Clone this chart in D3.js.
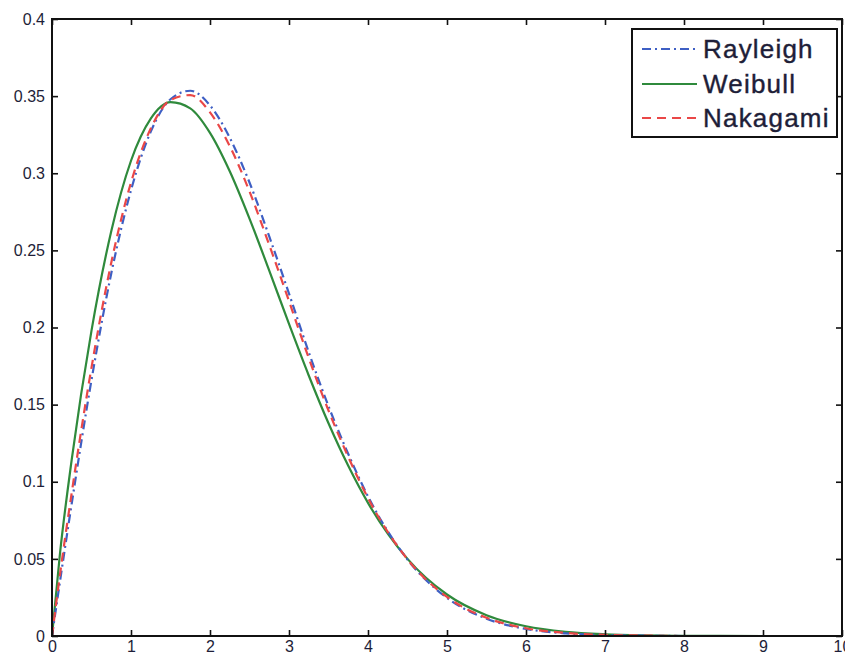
<!DOCTYPE html>
<html>
<head>
<meta charset="utf-8">
<script src="https://cdn.jsdelivr.net/npm/d3@7"></script>
<style>
  body { margin: 0; background: #fff; }
  text { font-family: "Liberation Sans", Arial, sans-serif; }
</style>
</head>
<body>
<script>
var w = 845;
var h = 659;
var margin = {top: 19, right: 3, bottom: 23, left: 52};

// values
var xs = [0, 0.1, 0.25, 0.5, 0.75, 1, 1.25, 1.5, 1.75, 2, 2.25, 2.5, 2.75, 3, 3.25, 3.5, 3.75, 4, 4.5, 5, 5.5, 6, 6.5, 7, 7.5, 8, 9, 10];
var rayleigh = [0, 0.035, 0.086, 0.166, 0.235, 0.289, 0.327, 0.348, 0.3535, 0.344, 0.323, 0.294, 0.259, 0.222, 0.184, 0.149, 0.118, 0.0905, 0.0496, 0.0247, 0.0112, 0.0046, 0.0017, 0.0006, 0.0002, 0, 0, 0];
var weibull = [0, 0.053, 0.1145, 0.198, 0.2624, 0.3081, 0.3354, 0.3461, 0.3421, 0.3262, 0.3013, 0.2706, 0.2369, 0.2023, 0.1689, 0.1379, 0.1103, 0.0863, 0.05, 0.0269, 0.0135, 0.0063, 0.0027, 0.0011, 0.0004, 0.0001, 0, 0];
var nakagami = [0, 0.0395, 0.093, 0.174, 0.242, 0.294, 0.329, 0.3475, 0.3507, 0.3395, 0.3176, 0.2882, 0.2535, 0.2171, 0.1802, 0.1462, 0.1161, 0.0894, 0.0497, 0.0253, 0.0118, 0.005, 0.002, 0.0007, 0.0003, 0, 0, 0];

var xTicks = [0, 1, 2, 3, 4, 5, 6, 7, 8, 9, 10];
var yTicks = [0, 0.05, 0.1, 0.15, 0.2, 0.25, 0.3, 0.35, 0.4];

var seriesNames = ["Rayleigh", "Weibull", "Nakagami"];
var seriesColors = ["#3e5fc4", "#2f8a3c", "#ea4747"];
var seriesDash = ["9,4,2,4", null, "9,6"];
var seriesData = [rayleigh, weibull, nakagami];

var iw = w - margin.left - margin.right;
var ih = h - margin.top - margin.bottom;

var xScale = d3.scaleLinear().domain([0, 10]).range([0, iw]);
var yScale = d3.scaleLinear().domain([0, 0.4]).range([ih, 0]);

var svg = d3.select("body").append("svg")
    .attr("width", w)
    .attr("height", h);

var g = svg.append("g")
    .attr("transform", "translate(" + margin.left + "," + margin.top + ")");

var line = d3.line()
    .x(function(d, i) { return xScale(xs[i]); })
    .y(function(d) { return yScale(d); })
    .curve(d3.curveMonotoneX);

// green underneath, dashed ones on top
[1, 0, 2].forEach(function(k) {
    g.append("path")
        .datum(seriesData[k])
        .attr("fill", "none")
        .attr("stroke", seriesColors[k])
        .attr("stroke-width", 2.2)
        .attr("stroke-dasharray", seriesDash[k])
        .attr("d", line);
});

// axes with inward ticks
var fmt = function(d) { return String(+d.toFixed(2)); };

g.append("g")
    .attr("transform", "translate(0," + ih + ")")
    .call(d3.axisBottom(xScale).tickValues(xTicks).tickFormat(fmt)
        .tickSizeInner(-6).tickSizeOuter(0).tickPadding(5));

g.append("g")
    .call(d3.axisLeft(yScale).tickValues(yTicks).tickFormat(fmt)
        .tickSizeInner(-6).tickSizeOuter(0).tickPadding(7));

g.append("g")
    .call(d3.axisTop(xScale).tickValues(xTicks).tickFormat("")
        .tickSizeInner(-6).tickSizeOuter(0));

g.append("g")
    .attr("transform", "translate(" + iw + ",0)")
    .call(d3.axisRight(yScale).tickValues(yTicks).tickFormat("")
        .tickSizeInner(-6).tickSizeOuter(0));

g.selectAll(".domain").remove();
g.selectAll(".tick line").attr("stroke", "#111").attr("stroke-width", 1.6);
g.selectAll(".tick text")
    .attr("fill", "#1e1e38")
    .style("font-size", "16px")
    .style("font-family", "'Liberation Sans', Arial, sans-serif");

g.append("rect")
    .attr("x", 0).attr("y", 0)
    .attr("width", iw).attr("height", ih)
    .attr("fill", "none")
    .attr("stroke", "#111")
    .attr("stroke-width", 2);

// legend
var legend = svg.append("g").attr("transform", "translate(632,29)");
legend.append("rect")
    .attr("width", 205).attr("height", 108)
    .attr("fill", "#fff")
    .attr("stroke", "#111")
    .attr("stroke-width", 2);

var rows = legend.selectAll(".row")
    .data(seriesNames)
    .enter().append("g")
    .attr("class", "row")
    .attr("transform", function(d, i) { return "translate(0," + [20, 55, 89][i] + ")"; });

rows.append("line")
    .attr("x1", 10).attr("x2", 65)
    .attr("y1", 0).attr("y2", 0)
    .attr("stroke", function(d, i) { return seriesColors[i]; })
    .attr("stroke-width", 2.2)
    .attr("stroke-dasharray", function(d, i) { return seriesDash[i]; });

rows.append("text")
    .attr("x", 71)
    .attr("y", 0)
    .attr("dy", "0.36em")
    .attr("fill", "#1e1e38")
    .style("font-size", "26px")
    .style("letter-spacing", "1.2px")
    .style("stroke", "#1e1e38")
    .style("stroke-width", "0.4px")
    .text(function(d) { return d; });
</script>
</body>
</html>
